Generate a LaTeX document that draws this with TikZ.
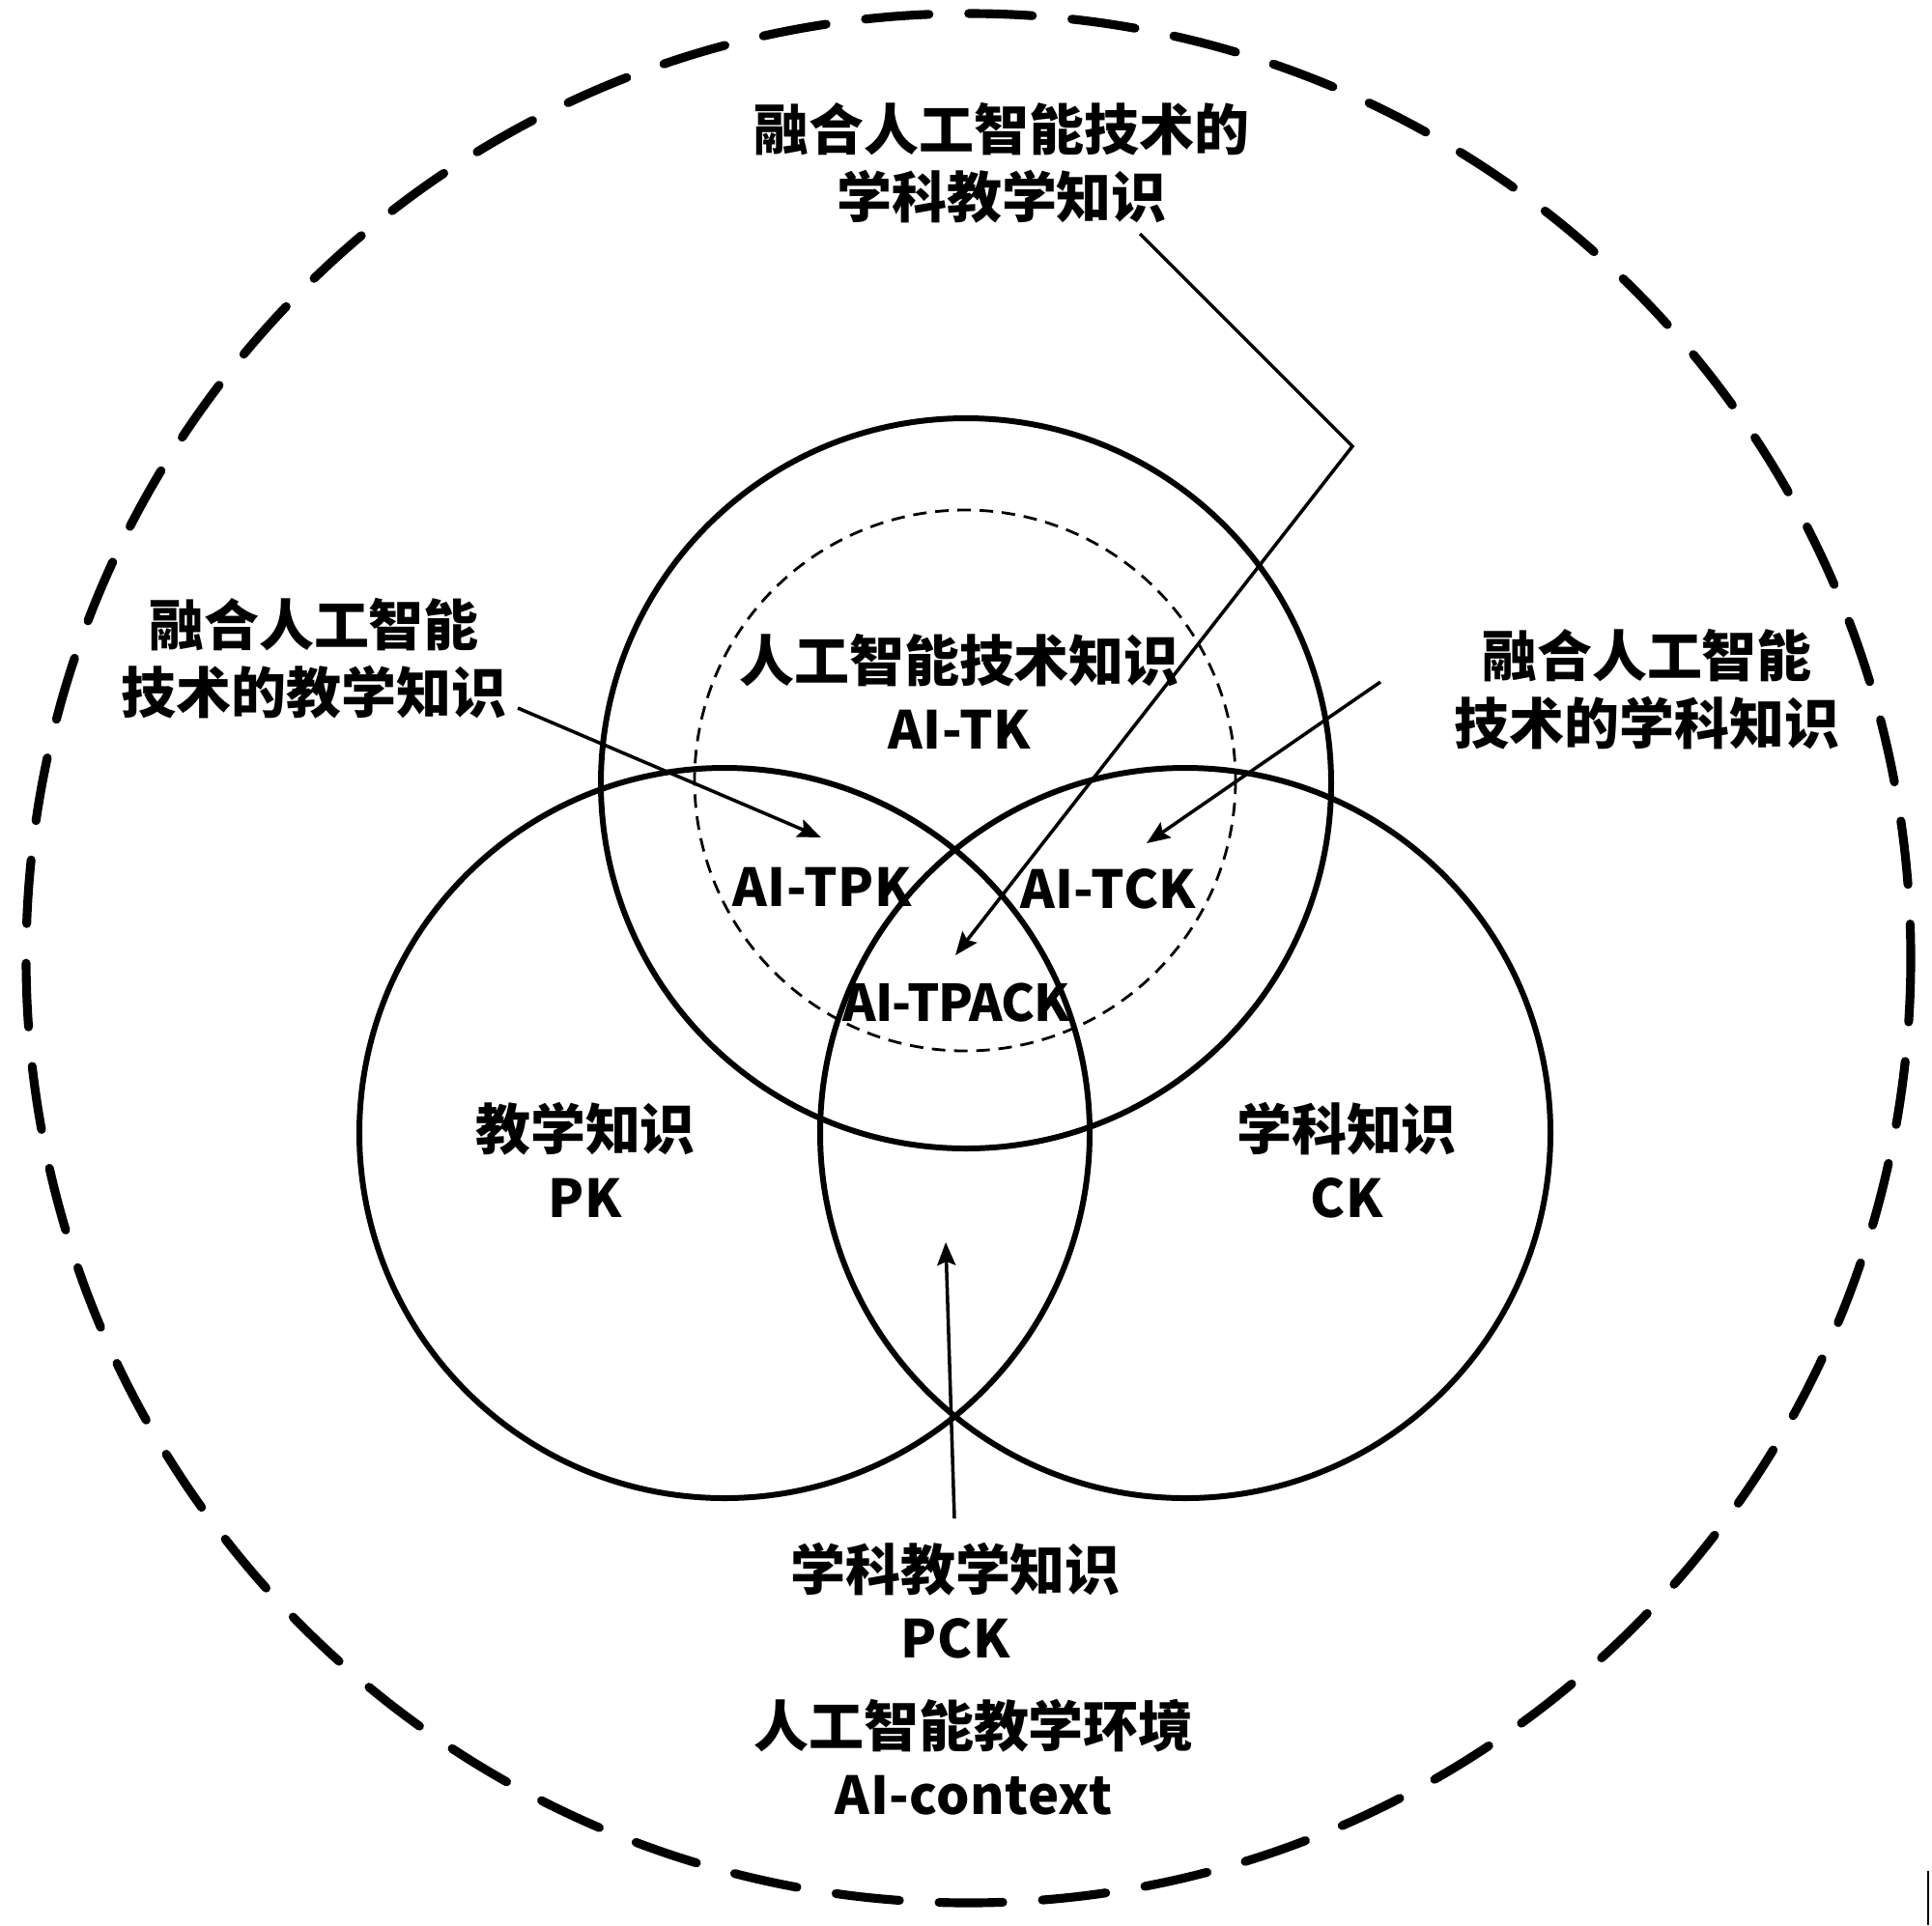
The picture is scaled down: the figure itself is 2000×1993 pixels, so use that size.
\documentclass[tikz,border=0pt]{standalone}
\usepackage{fontspec}
\usetikzlibrary{arrows.meta}
\newfontfamily\cjk{Noto Sans CJK SC}
\newfontfamily\lat{Noto Sans CJK SC}[Scale=0.95,LetterSpace=1]
\newfontfamily\latn{Noto Sans CJK SC}[Scale=0.92,LetterSpace=-2]
\begin{document}
\begin{tikzpicture}[x=0.01cm,y=-0.01cm,
  lbl/.style={align=center,inner sep=0pt,font=\cjk\bfseries\fontsize{16.2}{19.9}\selectfont},
  venn/.style={line width=1.7pt},
  outerdash/.style={line width=2.6pt,dash pattern=on 0.66cm off 0.41cm,line cap=round},
  innerdash/.style={line width=0.8pt,dash pattern=on 0.14cm off 0.09cm},
  conn/.style={line width=1pt,-{Stealth[length=0.24cm,width=0.19cm,inset=0.04cm]}}]
\useasboundingbox (0,0) rectangle (2000,1993);
% outer environment
\draw[outerdash] (1002.5,992) ellipse [x radius=975.5, y radius=978];
% venn circles
\draw[venn] (1000,811) circle [radius=378];
\draw[venn] (750,1173) circle [radius=378];
\draw[venn] (1227,1173) circle [radius=378];
% inner dashed circle
\draw[innerdash] (999,808) circle [radius=280];
% labels
\node[lbl] (lblTop) at (1037,169) {融合人工智能技术的\\学科教学知识};
\node[lbl] (lblL) at (325,682) {融合人工智能\\技术的教学知识};
\node[lbl] (lblR) at (1705,714) {融合人工智能\\技术的学科知识};
\node[lbl] (tk) at (993,716) {人工智能技术知识\\{\lat\bfseries AI-TK}};
\node[lbl] (tpk) at (851,918) {\lat\bfseries AI-TPK};
\node[lbl] (tck) at (1147,920) {\lat\bfseries AI-TCK};
\node[lbl] (tpack) at (990,1038) {\latn\bfseries AI-TPACK};
\node[lbl] (pk) at (606,1201) {教学知识\\{\lat\bfseries PK}};
\node[lbl] (ck) at (1394,1201) {学科知识\\{\lat\bfseries CK}};
\node[lbl] (pck) at (989,1657) {学科教学知识\\{\lat\bfseries PCK}};
\node[lbl] (ctx) at (1008,1819) {人工智能教学环境\\{\lat\bfseries AI-context}};
% connector endpoints
\coordinate (sTop) at (1180,242);
\coordinate (bend) at (1400,462);
\coordinate (eTop) at (989,989);
\coordinate (sL) at (536,733);
\coordinate (eL) at (850,867);
\coordinate (sR) at (1429,706);
\coordinate (eR) at (1187,873);
\coordinate (sP) at (988,1572);
\coordinate (eP) at (979,1286);
\draw[conn] (sTop) -- (bend) -- (eTop);
\draw[conn] (sL) -- (eL);
\draw[conn] (sR) -- (eR);
\draw[conn] (sP) -- (eP);
% stray edge mark
\coordinate (m1) at (1996,1937);
\coordinate (m2) at (1996,1993);
\draw[line width=0.6pt] (m1) -- (m2);
\end{tikzpicture}
\end{document}
